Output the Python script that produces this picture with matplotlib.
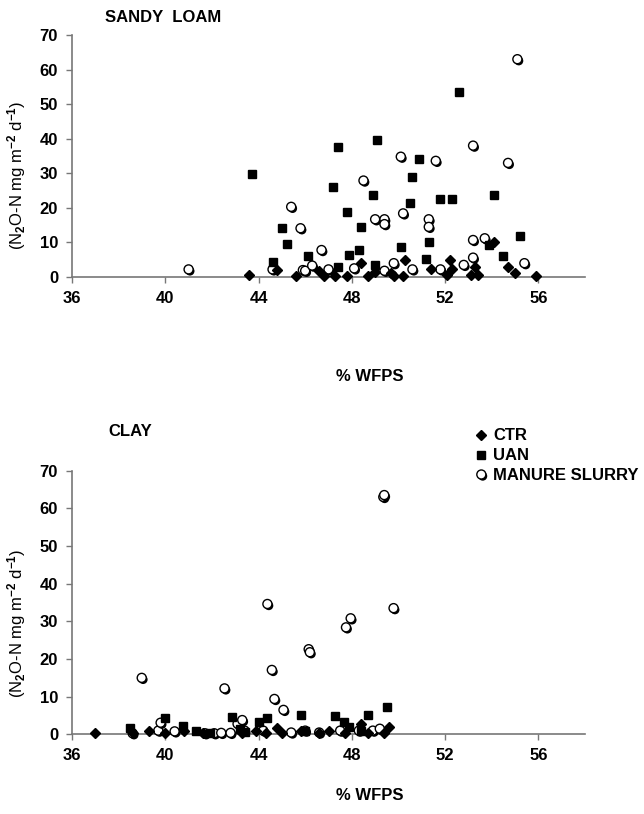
import matplotlib
matplotlib.use("Agg")
import matplotlib.pyplot as plt
import matplotlib.patheffects as pe

plt.rcParams['font.family'] = ['Liberation Sans', 'DejaVu Sans']
plt.rcParams['font.weight'] = 'bold'
plt.rcParams['mathtext.fontset'] = 'custom'
plt.rcParams['mathtext.rm'] = 'Liberation Sans:bold'
plt.rcParams['mathtext.bf'] = 'Liberation Sans:bold'
plt.rcParams['mathtext.default'] = 'bf'

# sandy loam
sl_ctr_x = [43.6, 44.8, 45.6, 46.6, 46.8, 47.3, 47.8, 48.4, 48.7, 49.0, 49.7, 49.8, 50.2,
            50.3, 51.4, 52.1, 52.2, 52.3, 53.1, 53.3, 53.4, 54.1, 54.7, 55.0, 55.9]
sl_ctr_y = [0.6, 2.0, 0.3, 1.8, 0.3, 0.3, 0.3, 4.1, 0.3, 1.5, 1.2, 0.3, 0.3,
            4.9, 2.4, 0.6, 4.9, 2.3, 0.6, 2.8, 0.6, 10.2, 2.8, 1.1, 0.3]
sl_uan_x = [43.7, 44.6, 45.0, 45.2, 46.1, 47.2, 47.4, 47.4, 47.8, 47.9, 48.3, 48.4, 48.9, 49.0,
            49.1, 50.1, 50.5, 50.6, 50.9, 51.2, 51.3, 51.8, 52.3, 52.6, 53.9, 54.1, 54.5, 55.2]
sl_uan_y = [29.8, 4.2, 14.1, 9.5, 6.2, 26.0, 37.6, 2.8, 18.7, 6.3, 7.8, 14.4, 23.6, 3.5,
            39.5, 8.6, 21.5, 28.9, 34.0, 5.3, 10.2, 22.5, 22.7, 53.4, 9.2, 23.7, 6.1, 11.8]
sl_man_x = [41.0, 44.6, 45.4, 45.8, 45.9, 46.0, 46.3, 46.7, 47.0, 48.1, 48.5, 49.0, 49.4, 49.4,
            49.4, 49.8, 50.1, 50.2, 50.6, 51.3, 51.3, 51.6, 51.8, 52.8, 53.2, 53.2, 53.2, 53.7,
            54.7, 55.1, 55.4]
sl_man_y = [2.2, 2.2, 20.3, 14.1, 2.0, 1.8, 3.3, 7.8, 2.2, 2.5, 27.9, 16.7, 16.7, 15.3,
            1.8, 4.0, 34.8, 18.4, 2.2, 16.7, 14.5, 33.6, 2.2, 3.5, 38.0, 10.7, 5.6, 11.2,
            33.0, 63.0, 4.0]

# clay
cl_ctr_x = [37.0, 38.6, 39.3, 40.0, 40.8, 41.6, 43.3, 43.9, 44.3, 44.8, 45.0, 45.8, 46.6,
            47.0, 47.7, 48.4, 48.7, 49.4, 49.6]
cl_ctr_y = [0.5, 0.5, 0.8, 0.5, 0.8, 0.3, 0.5, 1.0, 0.5, 1.7, 0.5, 0.8, 0.5,
            0.8, 0.5, 2.8, 0.5, 0.5, 2.0]
cl_uan_x = [38.5, 40.0, 40.75, 41.3, 41.9, 42.85, 43.2, 43.4, 44.0, 44.36, 45.8, 46.0,
            47.3, 47.65, 47.9, 48.4, 48.7, 49.5]
cl_uan_y = [1.6, 4.3, 2.2, 1.0, 0.5, 4.7, 1.5, 0.6, 3.4, 4.3, 5.1, 1.0,
            4.9, 3.4, 2.0, 1.0, 5.1, 7.4]
cl_man_x = [38.6, 38.99, 39.7, 39.8, 40.4, 41.7, 42.1, 42.4, 42.54, 42.8, 43.1, 43.3, 43.4,
            44.2, 44.38, 44.57, 44.68, 45.07, 45.4, 46.0, 46.15, 46.2, 46.6, 47.5, 47.75,
            47.95, 48.3, 48.9, 49.2, 49.35, 49.39, 49.79]
cl_man_y = [0.3, 15.0, 1.0, 3.1, 0.8, 0.3, 0.3, 0.4, 12.2, 0.4, 2.8, 3.8, 1.0,
            1.0, 34.6, 17.1, 9.4, 6.5, 0.5, 1.0, 22.6, 21.8, 0.5, 1.0, 28.4,
            30.8, 1.0, 1.0, 1.5, 63.0, 63.5, 33.5]

xticks = [36, 40, 44, 48, 52, 56]
yticks = [0, 10, 20, 30, 40, 50, 60, 70]
ylab = r'(N$_2$O-N mg m$^{-2}$ d$^{-1}$)'

fig = plt.figure(figsize=(6.44, 8.14), dpi=100)
ax1 = fig.add_axes([0.1118, 0.6597, 0.7966, 0.2973])
ax2 = fig.add_axes([0.1118, 0.0978, 0.7966, 0.3241])

shadow = [pe.withSimplePatchShadow(offset=(1.0, -1.2), shadow_rgbFace='black', alpha=1.0)]


def draw(ax, cx, cy, ux, uy, mx, my):
    ax.plot(mx, my, 'o', ms=6.5, mfc='white', mec='black', mew=1.0,
            path_effects=shadow, label='MANURE SLURRY', clip_on=False, zorder=3)
    ax.plot(ux, uy, 's', ms=6, color='black', label='UAN', clip_on=False, zorder=4)
    ax.plot(cx, cy, 'D', ms=5.5, color='black', label='CTR', clip_on=False, zorder=5)
    ax.set_xlim(36, 58)
    ax.set_ylim(0, 70)
    ax.set_xticks(xticks)
    ax.set_yticks(yticks)
    for s in ['top', 'right']:
        ax.spines[s].set_visible(False)
    for s in ['left', 'bottom']:
        ax.spines[s].set_color('#777777')
        ax.spines[s].set_linewidth(1.2)
    ax.tick_params(labelsize=12, length=4, width=1.0, color='#777777', pad=6)
    for t in ax.get_xticklabels() + ax.get_yticklabels():
        t.set_fontweight('bold')
    ax.set_ylabel(ylab, fontsize=12)
    ax.yaxis.set_label_coords(-0.085, 0.42)


draw(ax1, sl_ctr_x, sl_ctr_y, sl_uan_x, sl_uan_y, sl_man_x, sl_man_y)
draw(ax2, cl_ctr_x, cl_ctr_y, cl_uan_x, cl_uan_y, cl_man_x, cl_man_y)

fig.text(163 / 644, 1 - 18 / 814, 'SANDY  LOAM', ha='center', va='center', fontsize=12)
fig.text(370 / 644, 1 - 376 / 814, '% WFPS', ha='center', va='center', fontsize=12)
fig.text(130 / 644, 1 - 432 / 814, 'CLAY', ha='center', va='center', fontsize=12)
fig.text(370 / 644, 1 - 796 / 814, '% WFPS', ha='center', va='center', fontsize=12)

h, l = ax2.get_legend_handles_labels()
fig.legend(h[::-1], l[::-1], loc='upper left', bbox_to_anchor=(468 / 644, 1 - 420 / 814),
           frameon=False, fontsize=12, handlelength=0.6, handletextpad=0.4,
           labelspacing=0.3, borderpad=0)

fig.savefig('out.png', dpi=100)
